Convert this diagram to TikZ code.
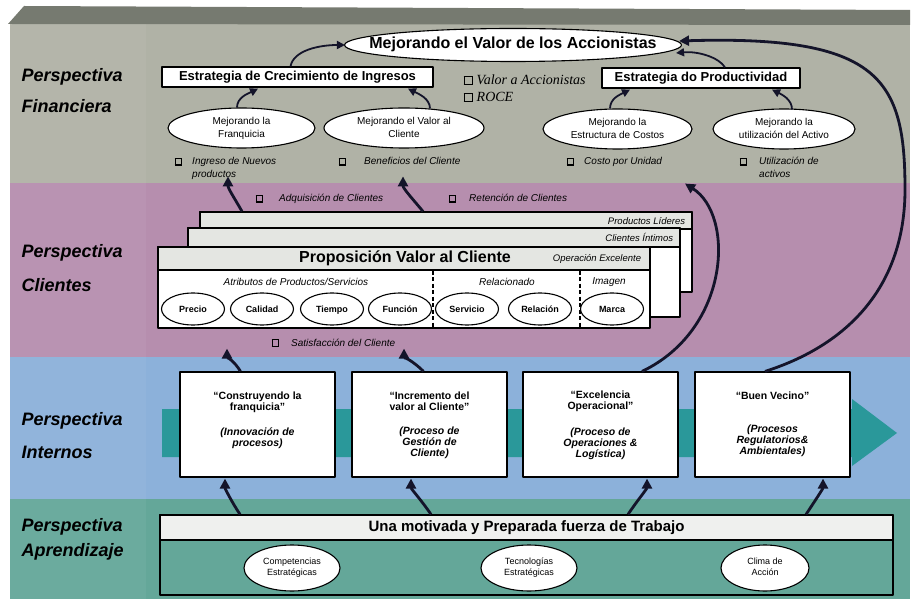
\documentclass[tikz,border=0pt]{standalone}
\usepackage{fontspec}
\setmainfont{Liberation Sans}
\newfontfamily\romanit{Liberation Serif}
\usetikzlibrary{shapes.geometric,arrows.meta,calc}

\definecolor{finband}{RGB}{176,178,166}
\definecolor{topedge}{RGB}{118,122,112}
\definecolor{cliband}{RGB}{182,142,174}
\definecolor{intband}{RGB}{140,177,218}
\definecolor{aprband}{RGB}{100,167,153}
\definecolor{flowteal}{RGB}{42,152,154}
\definecolor{ink}{RGB}{20,20,42}
\definecolor{stripe}{RGB}{228,230,226}

\newcommand\fs[2]{\fontsize{#1}{#2}\selectfont}
% hollow check box used in front of the indicator lists
\newcommand\chk[1][5.5pt]{\raisebox{0.05em}{\fboxsep=0pt\fboxrule=1.1pt\fbox{\rule{0pt}{#1}\hspace{#1}}}}
\newcommand\bul[2][11pt]{\chk\hspace{#1}\begin{tabular}[t]{@{}l@{}}#2\end{tabular}}
% zero-width text so an ellipse keeps its own size
\newcommand\zw[1]{\makebox[0pt]{\begin{tabular}{@{}c@{}}#1\end{tabular}}}

\begin{document}
\begin{tikzpicture}[x=1pt,y=-1pt,line join=round,
  lbl/.style={anchor=base west,font=\fs{18}{20}\bfseries\itshape},
  oval/.style={ellipse,draw=black,line width=1.1pt,fill=white,inner sep=0pt},
  sbox/.style={rectangle,draw=black,line width=1.2pt,fill=white,inner sep=0pt},
  strip/.style={rectangle,draw=black,line width=1.2pt,fill=stripe,inner sep=0pt},
  note/.style={anchor=base west,font=\fs{10}{12.5}\itshape},
  ptext/.style={anchor=north,align=center,inner sep=0pt,font=\fs{10.5}{11}\bfseries},
  bigarr/.style={draw=ink,line width=2.8pt,-{Triangle[length=10pt,width=10pt]}},
  smallarr/.style={draw=ink,line width=1.8pt,-{Triangle[length=8pt,width=8pt]}}]

\useasboundingbox (0,0) rectangle (915,601);

% ---- perspective bands ----
\fill[finband] (10,24) rectangle (910,183);
\fill[cliband] (10,183) rectangle (910,357);
\fill[intband] (10,357) rectangle (910,499);
\fill[aprband] (10,499) rectangle (910,599);
\fill[topedge] (8,24) -- (24,6) -- (910,10) -- (910,25) -- cycle;
\fill[white,opacity=0.05] (10,24) rectangle (146,599);

% ---- band titles ----
\node[lbl] (lf1) at (18,82) {Perspectiva};
\node[lbl] (lf2) at (18,113) {Financiera};
\node[lbl] (lc1) at (18,258) {Perspectiva};
\node[lbl] (lc2) at (18,292) {Clientes};
\node[lbl] (li1) at (18,425) {Perspectiva};
\node[lbl] (li2) at (18,458) {Internos};
\node[lbl] (la1) at (18,531) {Perspectiva};
\node[lbl] (la2) at (18,556) {Aprendizaje};

% ---- financial perspective ----
\node[oval,minimum width=337pt,minimum height=33pt,font=\fs{16}{18}\bfseries] (vm) at (513,45)
  {\zw{Mejorando el Valor de los Accionistas}};
\node[sbox,minimum width=271pt,minimum height=20pt,font=\fs{13}{15}\bfseries] (gi) at (297.5,77)
  {Estrategia de Crecimiento de Ingresos};
\node[sbox,minimum width=198pt,minimum height=20pt,font=\fs{13}{15}\bfseries] (pr) at (701,78)
  {Estrategia do Productividad};
\node[anchor=base west,font=\romanit\itshape\fs{14}{16}] (va) at (460,85) {\chk[7pt]\hspace{4pt}Valor a Accionistas};
\node[anchor=base west,font=\romanit\itshape\fs{14}{16}] (ro) at (460,102) {\chk[7pt]\hspace{4pt}ROCE};

\node[oval,minimum width=147pt,minimum height=40pt,font=\fs{10}{13}] (f1) at (241.5,128) {\zw{Mejorando la\\Franquicia}};
\node[oval,minimum width=160pt,minimum height=40pt,font=\fs{10}{13}] (f2) at (404,128) {\zw{Mejorando el Valor al\\Cliente}};
\node[oval,minimum width=149pt,minimum height=40pt,font=\fs{10}{13}] (f3) at (617.5,129) {\zw{Mejorando la\\Estructura de Costos}};
\node[oval,minimum width=142pt,minimum height=40pt,font=\fs{10}{13}] (f4) at (784,129) {\zw{Mejorando la\\utilización del Activo}};

\node[note] (b1) at (171,165) {\bul[10pt]{Ingreso de Nuevos\\productos}};
\node[note] (b2) at (335,165) {\bul[18pt]{Beneficios del Cliente}};
\node[note] (b3) at (563,165) {\bul[10pt]{Costo por Unidad}};
\node[note] (b4) at (736,165) {\bul[12pt]{Utilización de\\activos}};

% ---- customer perspective ----
\node[note] (b5) at (252,202) {\bul[16pt]{Adquisición de Clientes}};
\node[note] (b6) at (445,202) {\bul[13pt]{Retención de Clientes}};

\node[sbox,minimum width=492pt,minimum height=80pt] (s3) at (446,252) {};
\node[strip,minimum width=492pt,minimum height=17pt,anchor=north] (s3h) at (s3.north) {};
\node[anchor=base east,font=\fs{9.5}{11}\itshape] (s3t) at ($(s3h.east)+(-4,4)$) {Productos Líderes};

\node[sbox,minimum width=492pt,minimum height=89pt] (s2) at (434,272.5) {};
\node[strip,minimum width=492pt,minimum height=19pt,anchor=north] (s2h) at (s2.north) {};
\node[anchor=base east,font=\fs{9.5}{11}\itshape] (s2t) at ($(s2h.east)+(-4,4)$) {Clientes Íntimos};

\node[sbox,minimum width=492pt,minimum height=81pt] (s1) at (404,287.5) {};
\node[strip,minimum width=492pt,minimum height=23pt,anchor=north] (s1h) at (s1.north) {};
\node[font=\fs{16}{18}\bfseries] (pv) at ($(s1h.center)+(1,0)$) {Proposición Valor al Cliente};
\node[anchor=east,font=\fs{9.5}{11}\itshape] (oe) at ($(s1h.east)+(-6,0)$) {Operación Excelente};
\draw[line width=1.3pt,dash pattern=on 4pt off 2.5pt] ($(s1h.south)+(29,0)$) -- ($(s1.south)+(29,0)$);
\draw[line width=1.3pt,dash pattern=on 4pt off 2.5pt] ($(s1h.south)+(176,0)$) -- ($(s1.south)+(176,0)$);

\node[font=\fs{10}{12}\itshape] (k1) at (296,282) {Atributos de Productos/Servicios};
\node[font=\fs{10}{12}\itshape] (k2) at (507,282) {Relacionado};
\node[font=\fs{10}{12}\itshape] (k3) at (609,282) {Imagen};

\foreach \n/\x/\t in {e1/193/Precio,e2/262/Calidad,e3/332/Tiempo,e4/400/Función,
                      e5/467/Servicio,e6/540/Relación,e7/612/Marca}
  \node[oval,minimum width=63pt,minimum height=32pt,text height=6.5pt,text depth=0pt,
        font=\fs{9}{10}\bfseries] (\n) at (\x,309) {\t};

\node[note] (b7) at (268,346) {\bul[12pt]{Satisfacción del Cliente}};

% ---- internal perspective ----
\fill[flowteal] (162,409) -- (852,409) -- (852,399) -- (897,433) -- (852,466) -- (852,457) -- (162,457) -- cycle;

\node[sbox,minimum width=155pt,minimum height=105pt] (p1) at (257.5,424.5) {};
\node[sbox,minimum width=155pt,minimum height=105pt] (p2) at (429.5,424.5) {};
\node[sbox,minimum width=155pt,minimum height=105pt] (p3) at (600.5,424.5) {};
\node[sbox,minimum width=155pt,minimum height=105pt] (p4) at (772.5,424.5) {};

\node[ptext] (t1) at ($(p1.north)+(0,20)$)
  {“Construyendo la\\franquicia”\\[14pt]\itshape(Innovación de\\\itshape procesos)};
\node[ptext] (t2) at ($(p2.north)+(0,20)$)
  {“Incremento del\\valor al Cliente”\\[13pt]\itshape(Proceso de\\\itshape Gestión de\\\itshape Cliente)};
\node[ptext] (t3) at ($(p3.north)+(0,19)$)
  {“Excelencia\\Operacional”\\[15pt]\itshape(Proceso de\\\itshape Operaciones \&\\\itshape Logística)};
\node[ptext] (t4) at ($(p4.north)+(0,20)$)
  {“Buen Vecino”\\[22pt]\itshape(Procesos\\\itshape Regulatorios\&\\\itshape Ambientales)};

% ---- learning perspective ----
\node[rectangle,draw=black,line width=1.2pt,fill=aprband,inner sep=0pt,
      minimum width=733pt,minimum height=80pt] (wbody) at (526.5,555) {};
\node[strip,fill=stripe!60!white,minimum width=733pt,minimum height=25pt,anchor=north,
      font=\fs{15}{17}\bfseries] (wb) at (wbody.north) {Una motivada y Preparada fuerza de Trabajo};
\node[oval,minimum width=96pt,minimum height=46pt,font=\fs{9}{11}] (c1) at (292,568) {\zw{Competencias\\Estratégicas}};
\node[oval,minimum width=96pt,minimum height=46pt,font=\fs{9}{11}] (c2) at (529,568) {\zw{Tecnologías\\Estratégicas}};
\node[oval,minimum width=88pt,minimum height=46pt,font=\fs{9}{11}] (c3) at (765,568) {\zw{Clima de\\Acción}};

% ---- cause and effect links ----
% financial objectives
\draw[smallarr] ($(f1.north)+(-4.5,0)$) .. controls ($(f1.north)+(-4.5,-10)$) and ($(gi.south)+(-49.5,6)$) .. ($(gi.south)+(-39.5,1)$);
\draw[smallarr] ($(f2.north)+(26,1)$) .. controls ($(f2.north)+(26,-9)$) and ($(gi.south)+(120.5,6)$) .. ($(gi.south)+(110.5,1)$);
\draw[smallarr] ($(f3.north)+(-7.5,0)$) .. controls ($(f3.north)+(-7.5,-10)$) and ($(pr.south)+(-81,6)$) .. ($(pr.south)+(-71,1)$);
\draw[smallarr] ($(f4.north)+(8,1)$) .. controls ($(f4.north)+(8,-9)$) and ($(pr.south)+(81,6)$) .. ($(pr.south)+(71,1)$);
\draw[smallarr] ($(gi.north)+(-7,0)$) .. controls ($(gi.north)+(-4,-16)$) and ($(vm.west)+(-25,0)$) .. ($(vm.west)+(1,0)$);
\draw[smallarr] ($(pr.north)+(24,0)$) .. controls ($(pr.north)+(18,-10)$) and ($(vm.east)+(16,6)$) .. ($(vm.east)+(-6,8)$);

% customer to financial
\draw[bigarr] ($(s3.north)+(-204,0)$) .. controls ($(s3.north)+(-212,-14)$) and ($(s3.north)+(-218,-23)$) .. ($(s3.north)+(-218,-35)$);
\draw[bigarr] ($(s3.north)+(-23,0)$) .. controls ($(s3.north)+(-33,-12)$) and ($(s3.north)+(-43,-23)$) .. ($(s3.north)+(-43,-35)$);

% internal to customer
\draw[bigarr] ($(p1.north)+(-17,0)$) .. controls ($(p1.north)+(-23,-10)$) and ($(s1.south)+(-177,28)$) .. ($(s1.south)+(-177,20)$);
\draw[bigarr] ($(p2.north)+(-6,0)$) .. controls ($(p2.north)+(-16,-10)$) and ($(s1.south)+(0,28)$) .. ($(s1.south)+(0,20)$);

% learning to internal
\draw[bigarr] ($(wb.north)+(-286.5,0)$) .. controls ($(wb.north)+(-294.5,-12)$) and ($(p1.south)+(-32.5,11)$) .. ($(p1.south)+(-32.5,1)$);
\draw[bigarr] ($(wb.north)+(-95.5,0)$) .. controls ($(wb.north)+(-103.5,-12)$) and ($(p2.south)+(-18.5,11)$) .. ($(p2.south)+(-18.5,1)$);
\draw[bigarr] ($(wb.north)+(101.5,0)$) .. controls ($(wb.north)+(109.5,-12)$) and ($(p3.south)+(46.5,11)$) .. ($(p3.south)+(46.5,1)$);
\draw[bigarr] ($(wb.north)+(279.5,0)$) .. controls ($(wb.north)+(287.5,-12)$) and ($(p4.south)+(50.5,11)$) .. ($(p4.south)+(50.5,1)$);

% long links into the financial perspective
\coordinate (costtip) at ($(f3.south)+(67.5,34)$);
\draw[bigarr] ($(p3.north)+(41.5,0)$) .. controls ($(p3.north)+(129.5,-42)$) and ($(costtip)+(50,32)$) .. (costtip);
\coordinate (bend) at ($(p4.north)+(132.5,-182)$);
\draw[bigarr] ($(p4.north)+(-7.5,0)$) .. controls ($(p4.north)+(77.5,-27)$) and ($(bend)+(0,95)$) .. (bend)
  .. controls ($(bend)+(0,-110)$) and ($(vm.east)+(198,-10)$) .. ($(vm.east)+(-3,-4)$);

\end{tikzpicture}
\end{document}
